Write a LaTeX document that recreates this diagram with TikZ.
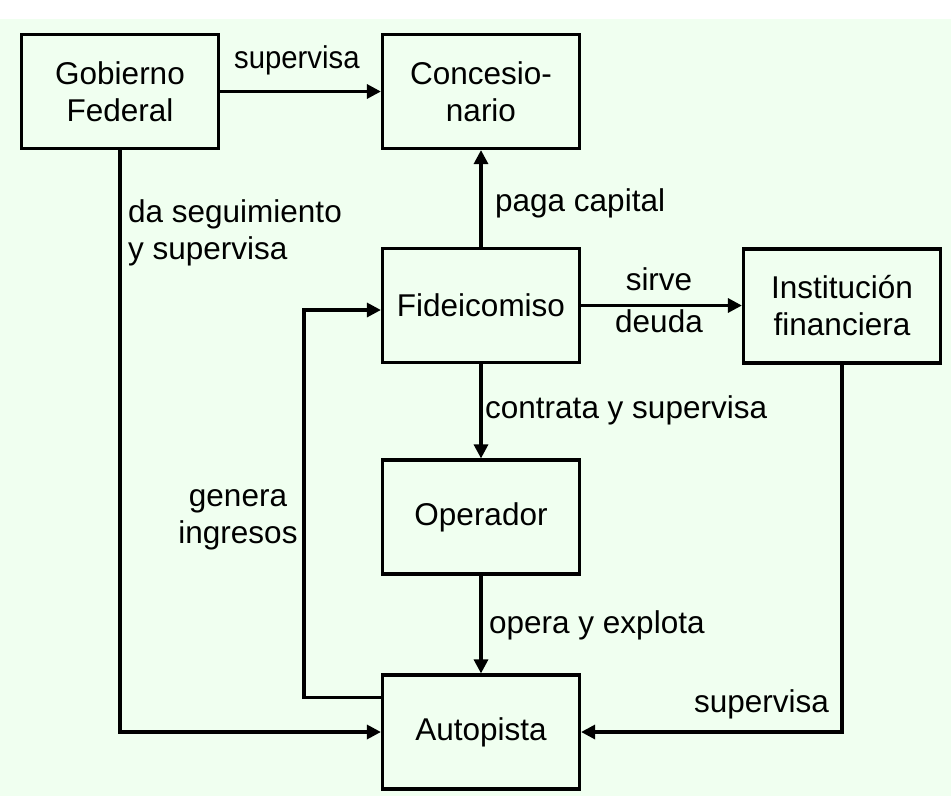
\documentclass[tikz,border=0pt]{standalone}
\usepackage{fontspec}
\usepackage{graphicx}
\setmainfont{Liberation Sans}
\usetikzlibrary{arrows.meta,calc}
\definecolor{bggreen}{HTML}{F0FFF0}
\tikzset{
  box/.style={draw=black, line width=3.2pt, minimum width=197pt, minimum height=114pt,
    align=center, inner sep=0pt},
  arr/.style={draw=black, line width=3.2pt, -{Triangle[length=14pt,width=14pt]}},
  lbl/.style={inner sep=0pt},
}
\begin{document}
\begin{tikzpicture}[x=1pt, y=-1pt, every node/.style={font=\fontsize{31.5}{37}\selectfont}]
\useasboundingbox (0,0) rectangle (951,796);
\fill[white] (0,0) rectangle (951,19);
\fill[bggreen] (0,19) rectangle (951,796);

\node[box] (gob) at (120,91.5) {Gobierno\\Federal};
\node[box] (con) at (481,91.5) {Concesio-\\nario};
\node[box] (fid) at (481,305.5) {Fideicomiso};
\node[box] (ins) at (842,306) {Institución\\financiera};
\node[box] (ope) at (481,517) {Operador};
\node[box] (aut) at (481,732) {Autopista};

\draw[arr] (gob.east) -- (con.west);
\draw[arr] (fid.north) -- (con.south);
\draw[arr] (fid.east) -- (ins.west |- fid.east);
\draw[arr] (fid.south) -- (ope.north);
\draw[arr] (ope.south) -- (aut.north);
\draw[arr] (gob.south) |- (aut.west);
\draw[arr] (ins.south) |- (aut.east);
\coordinate (loopA) at ($(aut.north west)+(0,24)$);
\coordinate (loopB) at ($(loopA)+(-77,0)$);
\draw[arr] (loopA) -- (loopB) |- ($(fid.west)+(0,4.5)$);

\node[lbl, anchor=base west] (l1) at (234,68) {\scalebox{0.93}[1]{supervisa}};
\node[lbl, anchor=north west, align=left] (l2) at (128,199) {da seguimiento\\y supervisa};
\node[lbl, anchor=base west] (l3) at (495,211) {paga capital};
\node[lbl, anchor=north, align=center] (l4) at (659,267) {sirve\\[5pt]deuda};
\node[lbl, anchor=base west] (l5) at (485,418) {contrata y supervisa};
\node[lbl, anchor=north, align=center] (l6) at (238,489) {genera\\ingresos};
\node[lbl, anchor=base west] (l7) at (489,633) {opera y explota};
\node[lbl, anchor=base west] (l8) at (694,712) {supervisa};
\end{tikzpicture}
\end{document}
